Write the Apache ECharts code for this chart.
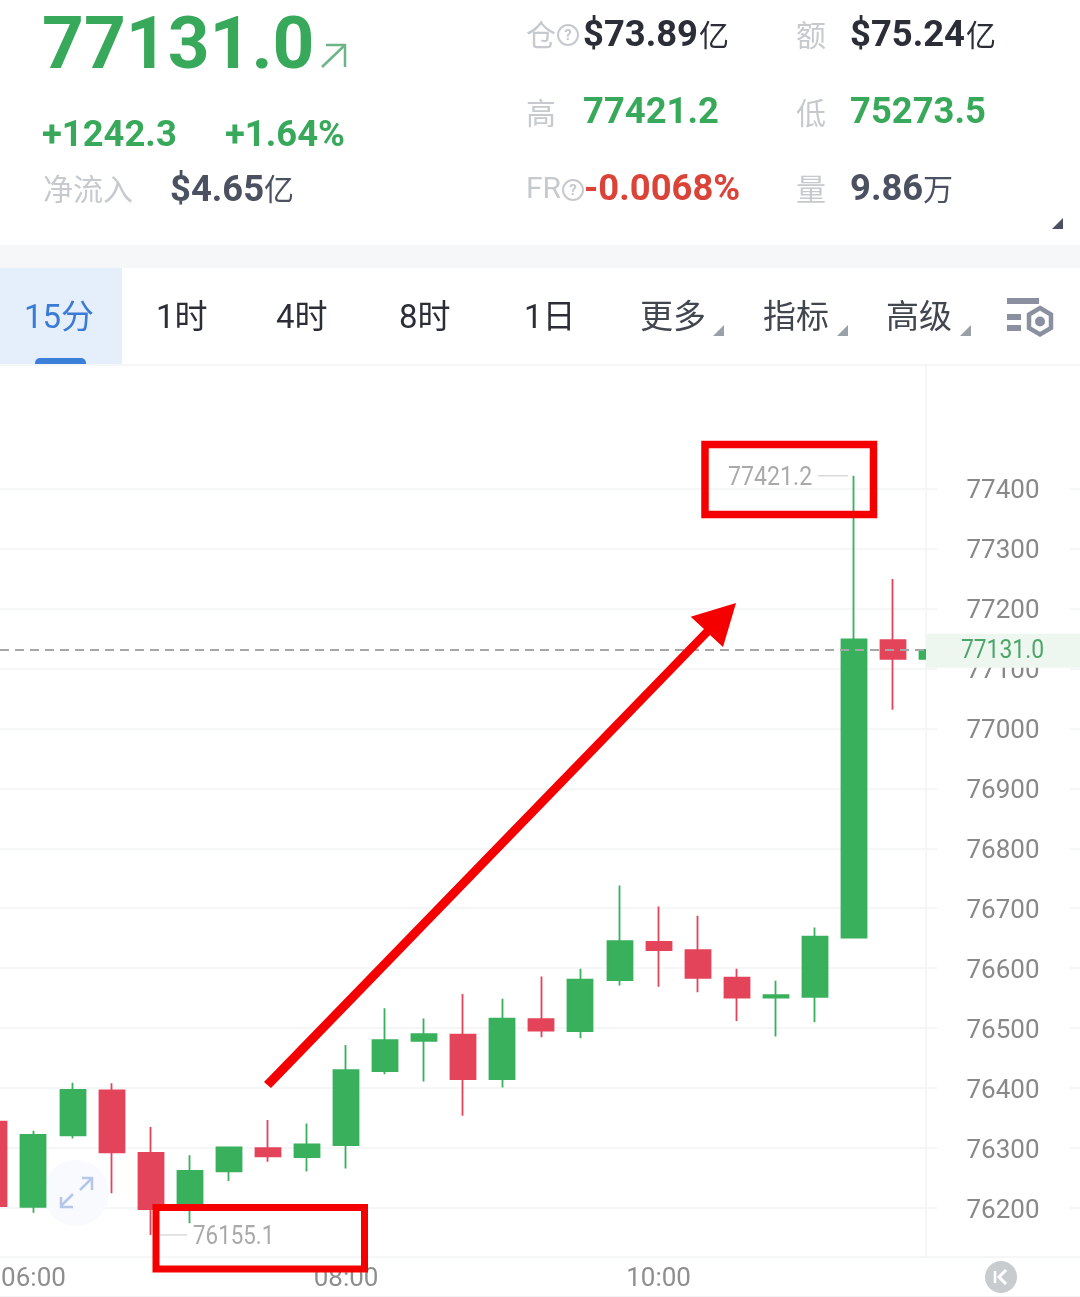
<!DOCTYPE html>
<html><head><meta charset="utf-8">
<style>html,body{margin:0;padding:0;background:#fff}#c{width:1080px;height:1297px}</style>
<script src="https://cdn.jsdelivr.net/npm/echarts@6/dist/echarts.min.js"></script>
</head><body><div id="c"></div>
<script>
const times = ['05:45','06:00','06:15','06:30','06:45','07:00','07:15','07:30','07:45','08:00','08:15','08:30','08:45','09:00','09:15','09:30','09:45','10:00','10:15','10:30','10:45','11:00','11:15','11:30','11:45'];
const opens = [76344,76202,76321,76396,76292,76198,76261,76300,76285,76305,76428.5,76479,76489,76415,76515,76495,76580,76644,76630,76584,76551,76552,76651,77147,77116];
const closes = [76203,76322,76397,76293,76198,76262,76301,76286,76306,76430,76480,76490,76415,76516,76496,76581,76645,76630,76584,76551,76555,76652.5,77148.5,77116,77131];
const lows = [76190,76192,76316,76224.5,76155.1,76174.5,76245,76277,76261,76266,76423,76411,76354,76401,76485,76483,76571,76569,76560,76512,76486,76510,76651,77031,77116];
const highs = [76360,76329,76409,76408,76335,76288,76301,76347,76341,76472,76533,76516,76557,76549,76586,76599,76738,76703,76687.5,76599,76579,76668,77421.2,77249,77131];
const yTicks = [76200,76300,76400,76500,76600,76700,76800,76900,77000,77100,77200,77300,77400];
const xTicks = ['06:00','08:00','10:00'];
const lastPrice = 77131.0, highPrice = 77421.2, lowPrice = 76155.1;
const tabs = [['1时',156],['4时',276],['8时',399],['1日',524]];
const tabsMore = [['更多',640,713],['指标',763,837],['高级',886,960]];

const GREEN='#38b05c', RED='#e4445a', LBL='#c6cace', DARK='#2b2e36', SLATE='#4b5160', BIG='#38a85a';
const CJK='"Noto Sans CJK SC"', NUM='Roboto,"Noto Sans CJK SC"';
const toMin = s => { const [h,m]=s.split(':').map(Number); return h*60+m; };
const pad = n => String(n).padStart(2,'0');
const minToLabel = v => pad(Math.floor(v/60))+':'+pad(v%60);

const chart = echarts.init(document.getElementById('c'), null, {renderer:'canvas'});
const candleData = times.map((t,i)=>[toMin(t),opens[i],closes[i],lows[i],highs[i]]);
const yMin=76118.3, yMax=77606, xMin=347.14, xMax=702.68;
const GRID='#f2f3f5';

const T=(x,y,text,font,fill,align)=>({type:'text',x,y,z:50,silent:true,style:{text,font,fill,textAlign:align||'left',textVerticalAlign:'middle'}});
const L=(x1,y1,x2,y2,stroke,w,z)=>({type:'line',z:z||50,silent:true,shape:{x1,y1,x2,y2},style:{stroke,lineWidth:w||1}});
const R=(x,y,w,h,fill,r,z)=>({type:'rect',z:z||1,silent:true,shape:{x,y,width:w,height:h,r:r||0},style:{fill}});
const P=(points,fill,z)=>({type:'polygon',z:z||50,silent:true,shape:{points},style:{fill}});
const PL=(points,stroke,w,z)=>({type:'polyline',z:z||50,silent:true,shape:{points},style:{stroke,lineWidth:w,fill:'none'}});
const C=(cx,cy,r,style,z)=>({type:'circle',z:z||50,silent:true,shape:{cx,cy,r},style});

const B36='bold 36.4px '+NUM, C30='30px '+CJK;
const g=[
  // header
  T(42,50,'77131.0','bold 73px '+NUM,BIG),
  L(322,67,345,45,'#6cb587',2.5), PL([[326,45],[345,45],[345,67]],'#6cb587',2.5),
  T(42,137,'+1242.3',B36,BIG), T(225,137,'+1.64%',B36,BIG),
  T(43,189,'净流入',C30,LBL), T(170,192,'$4.65',B36,SLATE), T(264,189,'亿',C30,SLATE),
  T(526,35,'仓',C30,LBL), C(568,35,10,{fill:'none',stroke:LBL,lineWidth:2}), T(568,36,'?','bold 15px '+NUM,LBL,'center'),
  T(583,37,'$73.89',B36,DARK), T(699,35,'亿',C30,DARK),
  T(796,35,'额',C30,LBL), T(850,37,'$75.24',B36,DARK), T(966,35,'亿',C30,DARK),
  T(526,113,'高',C30,LBL), T(583,114,'77421.2',B36,BIG),
  T(796,113,'低',C30,LBL), T(850,114,'75273.5',B36,BIG),
  T(526,190,'FR','30px '+NUM,LBL), C(573,190,10,{fill:'none',stroke:LBL,lineWidth:2}), T(573,191,'?','bold 15px '+NUM,LBL,'center'),
  T(584,191,'-0.0068%',B36,'#dc4338'),
  T(796,189,'量',C30,LBL), T(850,191,'9.86',B36,SLATE), T(923,189,'万',C30,SLATE),
  P([[1063,218],[1063,229],[1052,229]],SLATE),
  // band and tabs
  R(0,245,1080,23,'#f5f7f8'), R(0,268,122,96,'#e5effb'),
  {type:'rect',z:2,silent:true,shape:{x:35,y:358,width:51,height:6,r:[5,5,0,0]},style:{fill:'#3b7fd9'}},
  T(24,320,'15分','33px '+NUM,'#3a7bd5'),
  ...tabs.map(t=>T(t[1],320,t[0],'33px '+NUM,DARK)),
  ...tabsMore.map(t=>T(t[1],320,t[0],'33px '+NUM,'#42464f')),
  ...tabsMore.map(t=>P([[t[2]+11,325],[t[2]+11,336],[t[2],336]],'#9aa0a8')),
  // settings icon
  R(1007,298,32,6,'#8a90a0',0,50), R(1007,314,14,6,'#8a90a0',0,50), R(1007,325,14,6,'#8a90a0',0,50),
  {type:'polygon',z:50,silent:true,shape:{points:[[1040,308],[1051,314.5],[1051,328],[1040,334.5],[1029,328],[1029,314.5]]},style:{fill:'#fff',stroke:'#8a90a0',lineWidth:4.5}},
  C(1040,321.5,5,{fill:'#8a90a0'}),
  // frame lines
  L(0,365,1080,365,GRID,1.5,3), L(0,1257,1080,1257,GRID,1.5,3), L(0,1296.5,1080,1296.5,GRID,1,3),
  // expand icon
  C(76,1193,33,{fill:'#f8fafe'},1),
  L(61,1206,73,1194,'#b4c7e9',2.5,2), PL([[61,1197],[61,1207],[73,1207]],'#b4c7e9',2.5,2),
  L(92,1178,80,1190,'#b4c7e9',2.5,2), PL([[82,1178],[92,1178],[92,1190]],'#b4c7e9',2.5,2),
  // back button
  C(1001,1277,16,{fill:'#c9cccf'}),
  L(995,1271,995,1283,'#fff',2.5), PL([[1006,1270],[999,1277],[1006,1284]],'#fff',3),
  // red annotations
  {type:'rect',z:90,silent:true,shape:{x:705,y:444.5,width:168.5,height:70},style:{fill:'none',stroke:'#f50000',lineWidth:7.5}},
  {type:'rect',z:90,silent:true,shape:{x:156,y:1207.5,width:208.5,height:61.5},style:{fill:'none',stroke:'#f50000',lineWidth:7}},
  P([[264,1082],[704,629],[690.7,616.7],[736,603],[723,647],[710,635],[271,1088]],'#f50000',90)
];

chart.setOption({
  animation:false,
  backgroundColor:'#fff',
  grid:[{left:0,top:365,width:926,height:892,outerBoundsMode:'none'},{left:1070,top:365,width:10,height:892,outerBoundsMode:'none'}],
  xAxis:[
    {type:'value',gridIndex:0,min:xMin,max:xMax,splitLine:{show:false},axisTick:{show:false},
     axisLine:{show:false},
     axisLabel:{customValues:xTicks.map(toMin),formatter:minToLabel,margin:9,color:'#8e8e8e',fontSize:26,fontFamily:'Roboto',hideOverlap:false,showMinLabel:true,showMaxLabel:true}},
    {type:'value',gridIndex:1,min:0,max:1,show:false}
  ],
  yAxis:[
    {type:'value',gridIndex:0,position:'right',min:yMin,max:yMax,scale:true,
     axisLine:{show:true,lineStyle:{color:GRID,width:1.5}},
     axisTick:{show:true,length:11,customValues:yTicks,lineStyle:{color:GRID,width:1.5}},
     splitLine:{show:true,lineStyle:{color:GRID,width:1.5}},
     axisLabel:{customValues:yTicks,formatter:v=>'{a|'+v+'}',margin:77,align:'center',hideOverlap:false,
       rich:{a:{padding:[6,0,0,0],color:'#888',fontSize:26,fontFamily:'Roboto'}}}},
    {type:'value',gridIndex:1,min:yMin,max:yMax,scale:true,axisLine:{show:false},
     axisTick:{show:false,customValues:yTicks},axisLabel:{show:false,customValues:yTicks},
     splitLine:{show:true,lineStyle:{color:GRID,width:1.5}}}
  ],
  series:[{
    type:'candlestick',xAxisIndex:0,yAxisIndex:0,barWidth:25.5,clip:true,
    encode:{x:0,y:[1,2,3,4]},
    data:candleData,
    itemStyle:{color:GREEN,color0:RED,borderColor:GREEN,borderColor0:RED,borderWidth:1.8},
    markLine:{silent:true,symbol:'none',animation:false,
      label:{show:false},
      lineStyle:{color:'#a6a6a6',type:[9,6],width:2},
      data:[{yAxis:lastPrice}]}
  }],
  graphic:g
});

// Annotations tied to the price scale
const py = v => chart.convertToPixel({yAxisIndex:0},v);
const yl=py(lastPrice), yh=py(highPrice), ylo=py(lowPrice);
const narrow=(o,s)=>Object.assign(o,{scaleX:s});
chart.setOption({graphic:g.concat([
  R(926,yl-16,154,34,'#edf7f0',0,60),
  Object.assign(narrow(T(1002.5,yl+2,lastPrice.toFixed(1),'26px Roboto','#4ea56c','center'),0.88),{z:61}),
  narrow(T(728,yh+3,highPrice.toFixed(1),'26px Roboto','#a9a9a9'),0.89), L(818,yh,848,yh,'#d0d0d0',1.2),
  narrow(T(193,ylo+3,lowPrice.toFixed(1),'26px Roboto','#a9a9a9'),0.86), L(160,ylo,187,ylo,'#d0d0d0',1.2)
])});
</script></body></html>
